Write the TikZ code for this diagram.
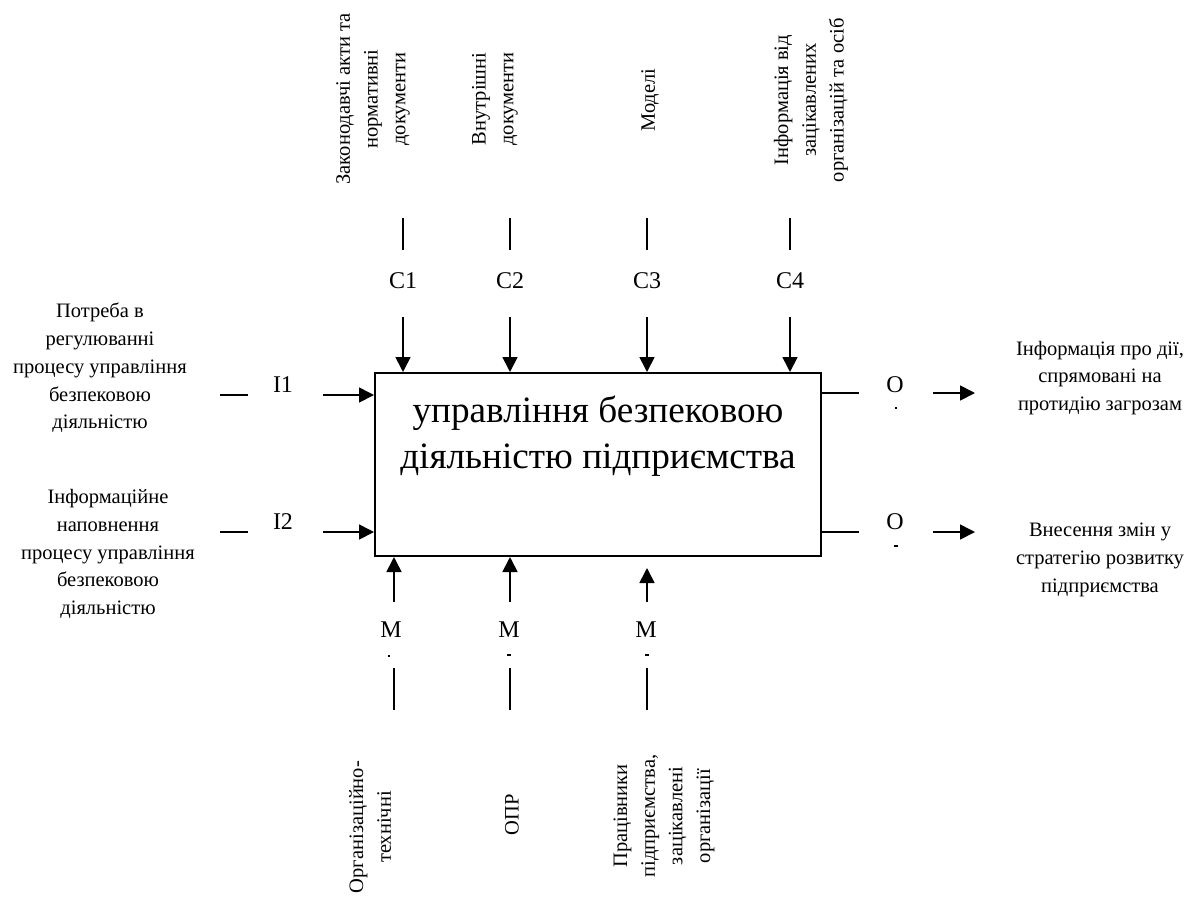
\documentclass[tikz,border=0pt]{standalone}
\usepackage{fontspec}
\setmainfont{Liberation Serif}
\usetikzlibrary{arrows.meta}
\begin{document}
\begin{tikzpicture}[x=1pt,y=-1pt,line width=1.7pt,
  arr/.style={-{Triangle[length=15pt,width=15pt]}},
  lbl/.style={font=\fontsize{24}{28}\selectfont,inner sep=0pt},
  note/.style={font=\fontsize{20.5}{27.7}\selectfont,align=center,inner sep=0pt},
  vnote/.style={note,rotate=90},
  tick/.style={fill=black,inner sep=0pt,minimum height=1.6pt,minimum width=#1},
  tick/.default=4pt]
\path[use as bounding box] (0,0) rectangle (1202,898);

% function block
\node[draw,line width=2pt,inner sep=0pt,minimum width=446pt,minimum height=183pt] (box) at (598,464.5) {};
\node[font=\fontsize{37.2}{46}\selectfont,align=center,inner sep=0pt] (title) at (598,436)
  {управління безпековою\\діяльністю підприємства};

% controls
\foreach \n/\x in {1/403,2/510,3/647,4/790}{
  \coordinate (ct\n) at (\x,218);
  \coordinate (cb\n) at (\x,250);
  \coordinate (ca\n) at (\x,317);
  \node[lbl] (C\n) at (\x,281) {C\n};
  \draw (ct\n) -- (cb\n);
  \draw[arr] (ca\n) -- (ca\n |- box.north);
}
\node[vnote] (ctext1) at (373,99) {Законодавчі акти та\\нормативні\\документи};
\node[vnote] (ctext2) at (495,99) {Внутрішні\\документи};
\node[vnote] (ctext3) at (650,100) {Моделі};
\node[vnote] (ctext4) at (811,100) {Інформація від\\зацікавлених\\організацій та осіб};

% inputs
\foreach \n/\y in {1/395,2/532}{
  \coordinate (ia\n) at (220,\y);
  \coordinate (ib\n) at (248,\y);
  \coordinate (ic\n) at (323,\y);
  \draw (ia\n) -- (ib\n);
  \draw[arr] (ic\n) -- (ic\n -| box.west);
}
\node[lbl] (I1) at (283,385) {I1};
\node[lbl] (I2) at (283,522) {I2};
\node[note] (itext1) at (100,368) {Потреба в\\регулюванні\\процесу управління\\безпековою\\діяльністю};
\node[note] (itext2) at (108,554) {Інформаційне\\наповнення\\процесу управління\\безпековою\\діяльністю};

% outputs
\foreach \n/\y in {1/393,2/532}{
  \coordinate (oa\n) at (859,\y);
  \coordinate (ob\n) at (933,\y);
  \coordinate (oc\n) at (975,\y);
  \draw (box.east |- oa\n) -- (oa\n);
  \draw[arr] (ob\n) -- (oc\n);
}
\node[lbl] (O1) at (895,385) {O};
\node[lbl] (O2) at (895,522) {O};
\node[tick=2pt] (ot1) at (896,408) {};
\node[tick] (ot2) at (896,546) {};
\node[note] (otext1) at (1100,378) {Інформація про дії,\\спрямовані на\\протидію загрозам};
\node[note] (otext2) at (1100,560) {Внесення змін у\\стратегію розвитку\\підприємства};

% mechanisms
\foreach \n/\x in {1/394,2/510,3/647}{
  \coordinate (ma\n) at (\x,602);
  \coordinate (mt\n) at (\x,668);
  \coordinate (mb\n) at (\x,710);
  \draw (mt\n) -- (mb\n);
}
\draw[arr] (ma1) -- (ma1 |- box.south);
\draw[arr] (ma2) -- (ma2 |- box.south);
\coordinate (mtip3) at (647,568);
\draw[arr] (ma3) -- (mtip3);
\node[lbl] (M1) at (391,630) {M};
\node[lbl] (M2) at (509,630) {M};
\node[lbl] (M3) at (646,630) {M};
\node[tick=2pt] (mk1) at (389,656) {};
\node[tick] (mk2) at (509,655) {};
\node[tick] (mk3) at (647,655) {};
\node[vnote] (mtext1) at (370,827) {Організаційно-\\технічні};
\node[vnote] (mtext2) at (512,815) {ОПР};
\node[vnote] (mtext3) at (664,816) {Працівники\\підприємства,\\зацікавлені\\організації};
\end{tikzpicture}
\end{document}
